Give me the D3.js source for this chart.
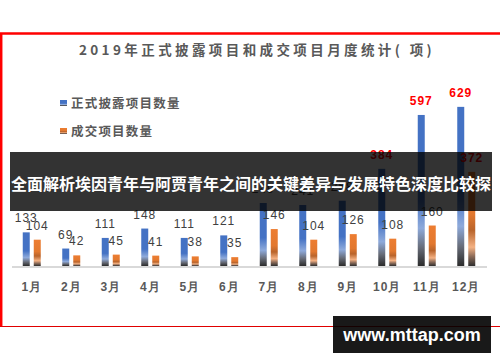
<!DOCTYPE html>
<html lang="zh">
<head>
    <meta charset="UTF-8">
    <title>2019年正式披露项目和成交项目月度统计</title>
    <style>
        body {
            margin: 0;
            background: #fff;
            font-family: "Noto Sans CJK SC", "Liberation Sans", sans-serif;
        }
        svg { display: block; }
        .month { font-size: 12px; font-weight: bold; fill: #595959; letter-spacing: 1px; }
        .val { font-family: "Liberation Sans", Arial, sans-serif; font-size: 12px; fill: #404040; letter-spacing: 1px; }
        .val.hot { fill: #ff0000; font-weight: bold; }
    </style>
</head>
<body>
    <svg width="500" height="362"></svg>
    <script src="https://d3js.org/d3.v7.min.js"></script>
    <script>
        const months = ["1月", "2月", "3月", "4月", "5月", "6月", "7月", "8月", "9月", "10月", "11月", "12月"];
        const disclosed = [133, 69, 111, 148, 111, 121, 249, 241, 258, 384, 597, 629];
        const dealt = [104, 42, 45, 41, 38, 35, 146, 104, 126, 108, 160, 372];
        const seriesNames = ["正式披露项目数量", "成交项目数量"];

        const svg = d3.select("svg");
        const width = +svg.attr("width");

        // gradients for the bars
        const defs = svg.append("defs");
        const grads = [
            {id: "gBlue", stops: [[0, "#4472c4"], [0.55, "#4472c4"], [0.75, "#8eaadb"], [0.88, "#676c78"], [1, "#2b2b2b"]]},
            {id: "gOrange", stops: [[0, "#ed7d31"], [0.45, "#e2782f"], [0.62, "#b9642b"], [0.8, "#f4b183"], [0.9, "#8a6a58"], [1, "#2e2e2e"]]}
        ];
        grads.forEach(g => {
            const lg = defs.append("linearGradient").attr("id", g.id)
                .attr("x1", 0).attr("y1", 0).attr("x2", 0).attr("y2", 1);
            g.stops.forEach(s => lg.append("stop").attr("offset", s[0]).attr("stop-color", s[1]));
        });

        // red frame
        svg.append("path")
            .attr("d", "M1.2,327 V33.5 H500")
            .attr("fill", "none").attr("stroke", "#ff0000").attr("stroke-width", 2.5);
        svg.append("line")
            .attr("x1", 0).attr("x2", width).attr("y1", 326.5).attr("y2", 326.5)
            .attr("stroke", "#e00000").attr("stroke-width", 1);

        svg.append("text")
            .attr("x", 257).attr("y", 55)
            .attr("text-anchor", "middle")
            .style("font-size", "13.5px").style("font-weight", "bold")
            .style("letter-spacing", "3.4px")
            .attr("fill", "#595959")
            .text("2019年正式披露项目和成交项目月度统计( 项)");

        // legend
        const legend = svg.append("g");
        seriesNames.forEach((name, i) => {
            const ly = 103 + i * 28;
            legend.append("rect")
                .attr("x", 60).attr("y", ly - 3).attr("width", 7).attr("height", 6)
                .attr("fill", i === 0 ? "url(#gBlue)" : "url(#gOrange)");
            legend.append("text")
                .attr("x", 71).attr("y", ly + 4.5)
                .style("font-size", "12.5px").style("font-weight", "bold")
                .style("letter-spacing", "1.2px")
                .attr("fill", "#595959")
                .text(name);
        });

        const x0 = d3.scaleBand().domain(months).range([12, 486]);
        const x1 = d3.scaleBand().domain([0, 1]).range([-9, 9]).paddingInner(0.364);
        const y = d3.scaleLinear().domain([0, 700]).range([266, 88.9]);

        const data = months.map((m, i) => ({m, vals: [disclosed[i], dealt[i]]}));

        const groups = svg.append("g").selectAll("g")
            .data(data).join("g")
            .attr("transform", d => `translate(${x0(d.m) + x0.bandwidth() / 2},0)`);

        groups.selectAll("rect")
            .data(d => d.vals.map((v, k) => ({v, k})))
            .join("rect")
            .attr("x", d => x1(d.k))
            .attr("width", x1.bandwidth())
            .attr("y", d => y(d.v))
            .attr("height", d => y(0) - y(d.v))
            .attr("fill", d => d.k === 0 ? "url(#gBlue)" : "url(#gOrange)");

        groups.selectAll("text.val")
            .data(d => d.vals.map((v, k) => ({v, k})))
            .join("text")
            .attr("class", d => d.v > 300 ? "val hot" : "val")
            .attr("x", d => x1(d.k) + x1.bandwidth() / 2)
            .attr("y", d => y(d.v) - 10)
            .attr("text-anchor", "middle")
            .text(d => d.v);

        // baseline and month labels
        svg.append("line")
            .attr("x1", 12).attr("x2", 487).attr("y1", y(0) + 1).attr("y2", y(0) + 1)
            .attr("stroke", "#d9d9d9").attr("stroke-width", 2);

        const xAxis = d3.axisBottom(x0).tickSize(0).tickPadding(0);
        const ax = svg.append("g").attr("transform", "translate(0,282)").call(xAxis);
        ax.select(".domain").remove();
        ax.selectAll("text").attr("class", "month").attr("dy", "0.35em").attr("y", 5);

        // overlay banner
        svg.append("rect")
            .attr("x", 10).attr("y", 152).attr("width", 482).attr("height", 59)
            .attr("fill", "#000").attr("opacity", 0.8);
        svg.append("text")
            .attr("x", 251).attr("y", 190)
            .attr("text-anchor", "middle")
            .style("font-size", "16px").style("font-weight", "bold")
            .attr("fill", "#fff")
            .text("全面解析埃因青年与阿贾青年之间的关键差异与发展特色深度比较探");

        // watermark
        svg.append("rect")
            .attr("x", 333).attr("y", 316).attr("width", 158).attr("height", 37)
            .attr("fill", "#000").attr("opacity", 0.9);
        svg.append("text")
            .attr("x", 412).attr("y", 341)
            .attr("text-anchor", "middle")
            .style("font-family", "'Liberation Sans', Arial, sans-serif")
            .style("font-size", "18px").style("font-weight", "bold")
            .attr("fill", "#fff")
            .text("www.mttap.com");
    </script>
</body>
</html>
